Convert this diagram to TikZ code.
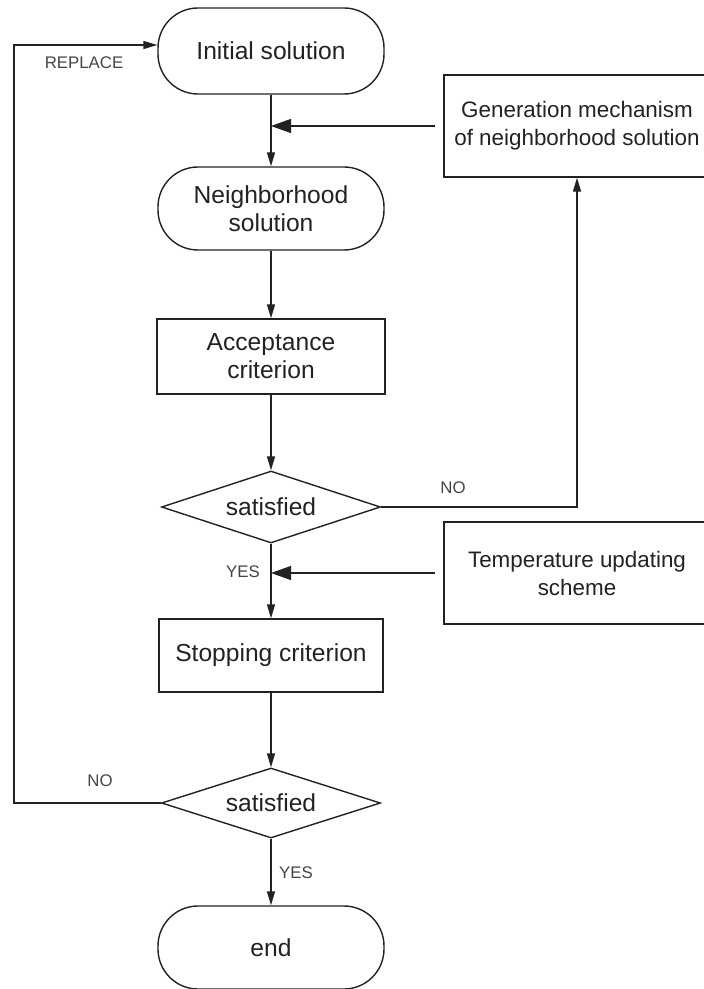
\documentclass[tikz,border=0pt]{standalone}
\usepackage{fontspec}
\setmainfont{Liberation Sans}
\usepackage{tikz}
\usetikzlibrary{shapes.geometric,arrows.meta}
\definecolor{Ink}{HTML}{222222}
\definecolor{Label}{HTML}{444444}

\begin{document}
\begin{tikzpicture}[x=0.5pt, y=-0.5pt, line width=0.7pt, draw=Ink,
                term/.style={draw=Ink, rounded corners=20pt, text=Ink,
                             minimum width=113pt, minimum height=43pt,
                             font=\fontsize{12.3}{14}\selectfont, align=center},
                box/.style={draw=Ink, text=Ink,
                            minimum width=114pt, minimum height=37.5pt,
                            font=\fontsize{12.3}{14}\selectfont, align=center},
                side/.style={draw=Ink, text=Ink,
                             minimum width=133pt, minimum height=51pt,
                             font=\fontsize{11.2}{14}\selectfont, align=center},
                test/.style={draw=Ink, diamond, aspect=3, inner sep=0pt, text=Ink,
                             minimum width=109.5pt, minimum height=36pt,
                             font=\fontsize{12.3}{14}\selectfont},
                lbl/.style={text=Label, font=\fontsize{8.4}{10}\selectfont},
                flow/.style={draw=Ink, -{Triangle[length=7pt, width=4pt]}},
                feed/.style={draw=Ink, -{Triangle[length=10pt, width=7pt]}}]
                \useasboundingbox (0,0) rectangle (704,989);
                \clip (0,0) rectangle (704,989);

                \node[term] (init)   at (271,51)    {Initial solution};
                \node[term, minimum height=41.5pt] (neigh) at (271,208.5) {Neighborhood\\solution};
                \node[box]  (accept) at (271,356.5) {Acceptance\\criterion};
                \node[test] (sat1)   at (271,507)   {satisfied};
                \node[box, minimum width=112pt, minimum height=36.5pt] (stop) at (271,655.5) {Stopping criterion};
                \node[test, minimum height=35pt] (sat2) at (271,803) {satisfied};
                \node[term, minimum height=41.5pt] (end) at (271,947.5) {end};

                \node[side] (gen)  at (577,126) {Generation mechanism\\of neighborhood solution};
                \node[side] (temp) at (577,573) {Temperature updating\\scheme};

                \node[lbl] (replace) at (84,63)   {REPLACE};
                \node[lbl] (no1)     at (453,488) {NO};
                \node[lbl] (yes1)    at (243,572) {YES};
                \node[lbl] (no2)     at (100,781) {NO};
                \node[lbl] (yes2)    at (296,873) {YES};

                \coordinate (back) at (14,803);

                \draw[flow] (init)   -- (neigh);
                \draw[flow] (neigh)  -- (accept);
                \draw[flow] (accept) -- (sat1);
                \draw[flow] (sat1)   -- (stop);
                \draw[flow] (stop)   -- (sat2);
                \draw[flow] (sat2)   -- (end);
                \draw[feed] ([xshift=-4pt]gen.west)  -- (gen.west -| init.south);
                \draw[feed] ([xshift=-4pt]temp.west) -- (temp.west -| sat1.south);
                \draw[flow] (sat1.east) -| (gen.south);
                \draw[flow] (sat2.west) -- (back) |- ([yshift=3pt]init.west);
\end{tikzpicture}
\end{document}
